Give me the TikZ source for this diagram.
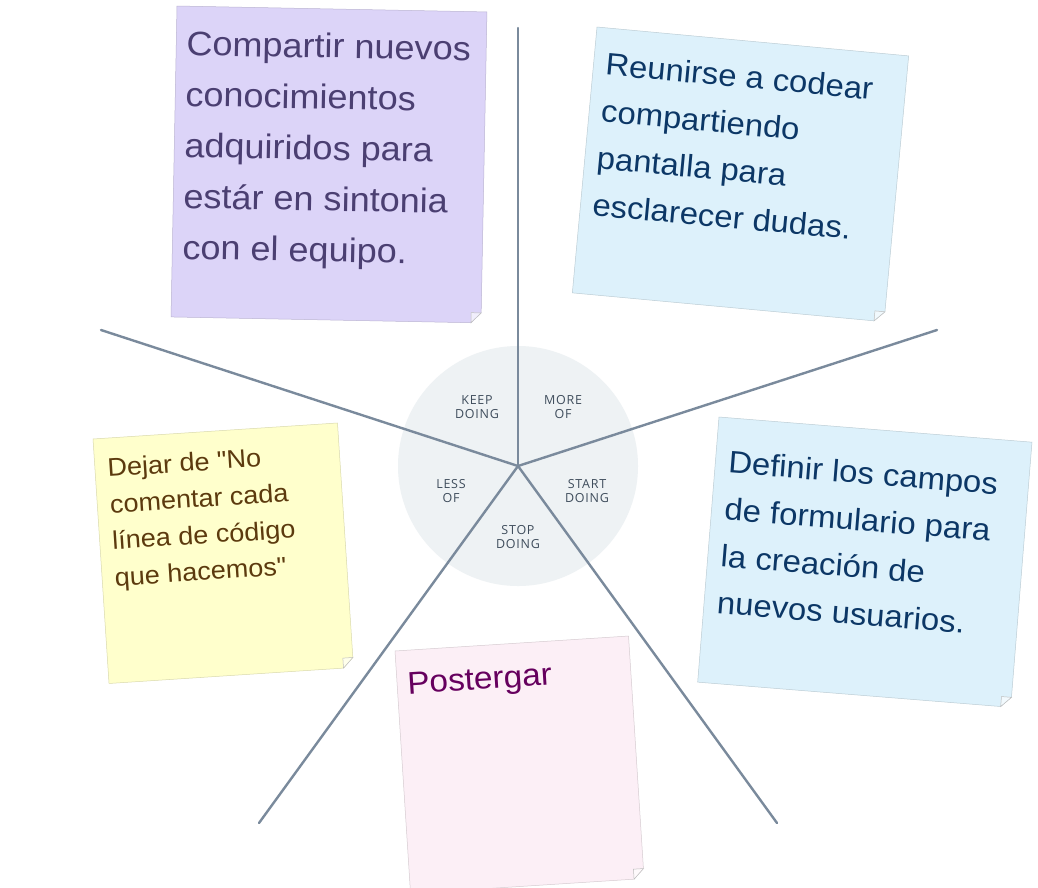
\documentclass[tikz,border=0pt]{standalone}
\usepackage{fontspec}
\setmainfont{Liberation Sans}
\newfontfamily\notefont[FakeStretch=1.06]{Liberation Sans}
\newfontfamily\wheelfont[LetterSpace=6]{Open Sans}
\usetikzlibrary{calc}
\definecolor{wheelbg}{HTML}{EEF2F4}
\definecolor{linegray}{HTML}{7A8A9C}
\definecolor{labelgray}{HTML}{3F4D5C}
\definecolor{bgpurple}{HTML}{DCD4F8}
\definecolor{bgblue}{HTML}{DDF1FB}
\definecolor{bgyellow}{HTML}{FFFFCC}
\definecolor{bgpink}{HTML}{FCEFF6}
\definecolor{txtpurple}{HTML}{4B3F72}
\definecolor{txtblue}{HTML}{0C3766}
\definecolor{txtyellow}{HTML}{5C3A0E}
\definecolor{txtpink}{HTML}{66005E}
\newcommand\notelines[3]{{\notefont\fontsize{#1}{#2}\selectfont\vtop{\hsize=600pt\parindent=0pt\parskip=0pt\leavevmode #3\par}}}
\tikzset{
  wheelline/.style={draw=linegray, line width=2.4pt, line cap=round},
  wheellabel/.style={font=\wheelfont\fontsize{12.5}{14.3}\selectfont, text=labelgray, align=center, inner sep=0pt},
  notebg/.style={fill=#1, draw=#1!85!black, line width=0.5pt},
  notefold/.style={fill=#1!40!white, draw=black!25, line width=0.5pt},
  notetext/.style={anchor=base west, inner sep=0pt, text=#1},
}
\begin{document}
\begin{tikzpicture}[x=1pt,y=-1pt]
\path[use as bounding box, clip] (0,0) rectangle (1038,887);
\fill[white] (0,0) rectangle (1038,887);
% wheel
\node[circle, fill=wheelbg, minimum size=240pt, inner sep=0pt] (wheel) at (518,466) {};
\coordinate (eTop) at (518,28);
\coordinate (eUR) at (937,330);
\coordinate (eLR) at (777,823);
\coordinate (eLL) at (259,823);
\coordinate (eUL) at (101,330);
\foreach \e in {eTop,eUR,eLR,eLL,eUL}{\draw[wheelline] (wheel.center) -- (\e);}
\node[wheellabel] (lkeep) at (477,407) {KEEP\\DOING};
\node[wheellabel] (lmore) at (563,407) {MORE\\OF};
\node[wheellabel] (lless) at (451,491) {LESS\\OF};
\node[wheellabel] (lstart) at (587,491) {START\\DOING};
\node[wheellabel] (lstop) at (518,537) {STOP\\DOING};
% purple note (keep doing)
\begin{scope}[shift={(177,6)}, rotate=-1.1, transform shape]
  \path[notebg=bgpurple] (0,0) -- (310,0) -- (310,301) -- (300,311) -- (0,311) -- cycle;
  \path[notefold=bgpurple] (300,311) -- (300,301) -- (310,301) -- cycle;
  \node[notetext=txtpurple] (nkeep) at (10,49) {\notelines{34}{51}{Compartir nuevos\par conocimientos\par adquiridos para\par estár en sintonia\par con el equipo.}};
\end{scope}
% blue note (more of)
\begin{scope}[shift={(597,27)}, rotate=-5.3, transform shape]
  \path[notebg=bgblue] (0,0) -- (313,0) -- (313,257) -- (303,267) -- (0,267) -- cycle;
  \path[notefold=bgblue] (303,267) -- (303,257) -- (313,257) -- cycle;
  \node[notetext=txtblue] (nmore) at (12,47) {\notelines{31}{47}{Reunirse a codear\par compartiendo\par pantalla para\par esclarecer dudas.}};
\end{scope}
% blue note (start doing)
\begin{scope}[shift={(719,417)}, rotate=-4.6, transform shape]
  \path[notebg=bgblue] (0,0) -- (314,0) -- (314,256) -- (304,266) -- (0,266) -- cycle;
  \path[notefold=bgblue] (304,266) -- (304,256) -- (314,256) -- cycle;
  \node[notetext=txtblue] (nstart) at (13,55) {\notelines{31}{47}{Definir los campos\par de formulario para\par la creación de\par nuevos usuarios.}};
\end{scope}
% yellow note (less of)
\begin{scope}[shift={(93,439)}, rotate=3.75, transform shape]
  \path[notebg=bgyellow] (0,0) -- (245,0) -- (245,235) -- (235,245) -- (0,245) -- cycle;
  \path[notefold=bgyellow] (235,245) -- (235,235) -- (245,235) -- cycle;
  \node[notetext=txtyellow] (nless) at (12.5,38.6) {\notelines{25.5}{36.6}{Dejar de "No\par comentar cada\par línea de código\par que hacemos"}};
\end{scope}
% pink note (stop doing)
\begin{scope}[shift={(395,651)}, rotate=3.67, transform shape]
  \path[notebg=bgpink] (0,0) -- (234,0) -- (234,233) -- (224,243) -- (0,243) -- cycle;
  \path[notefold=bgpink] (224,243) -- (224,233) -- (234,233) -- cycle;
  \node[notetext=txtpink] (nstop) at (10,44) {\notelines{31.5}{47}{Postergar}};
\end{scope}
\end{tikzpicture}
\end{document}
